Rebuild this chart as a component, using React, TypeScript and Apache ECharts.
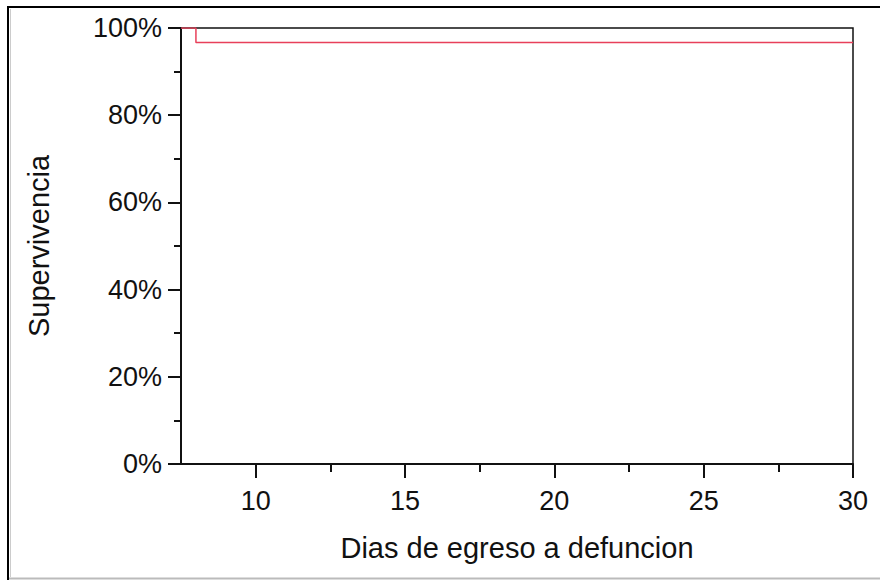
import React, { useEffect, useRef } from "react";
import * as echarts from "echarts";

const days = [7.5, 8, 30];
const survival = [1, 0.9667, 0.9667];
const xMajorTicks = [10, 15, 20, 25, 30];
const xMinorTicks = [12.5, 17.5, 22.5, 27.5];

const FONT = "'Liberation Sans', Arial, sans-serif";

export default function App() {
  const ref = useRef<HTMLDivElement>(null);
  useEffect(() => {
    if (!ref.current) return;
    const chart = echarts.init(ref.current, undefined, { renderer: "svg" });
    const tickText = { color: "#111", fontFamily: FONT, fontSize: 27 };
    const nameText = { color: "#111", fontFamily: FONT, fontSize: 29 };
    chart.setOption({
      animation: false,
      backgroundColor: "#fff",
      grid: {
        left: 181,
        right: 27,
        top: 28,
        bottom: 116,
        show: true,
        borderColor: "#111",
        borderWidth: 1.5,
        backgroundColor: "transparent",
      },
      graphic: [
        {
          type: "polyline",
          shape: { points: [[8, 580], [8, 7], [880, 7]] },
          style: { stroke: "#000", lineWidth: 2, fill: null },
        },
        {
          type: "line",
          shape: { x1: 10.5, y1: 9, x2: 10.5, y2: 577 },
          style: { stroke: "#ccc", lineWidth: 1 },
        },
        {
          type: "line",
          shape: { x1: 9, y1: 578.5, x2: 880, y2: 578.5 },
          style: { stroke: "#bbb", lineWidth: 2 },
        },
      ],
      xAxis: [
        {
          type: "value",
          min: 7.5,
          max: 30,
          name: "Dias de egreso a defuncion",
          nameLocation: "middle",
          nameGap: 69,
          nameTextStyle: { ...nameText },
          axisLine: { show: true, lineStyle: { color: "#111", width: 2 } },
          axisTick: { show: true, length: 14, customValues: xMajorTicks, lineStyle: { color: "#111", width: 2 } },
          axisLabel: { ...tickText, margin: 23, customValues: xMajorTicks },
          splitLine: { show: false },
        },
        {
          type: "value",
          min: 7.5,
          max: 30,
          position: "bottom",
          axisLine: { show: false },
          axisTick: { show: true, length: 8, customValues: xMinorTicks, lineStyle: { color: "#111", width: 2 } },
          axisLabel: { show: false },
          splitLine: { show: false },
        },
      ],
      yAxis: {
        type: "value",
        min: 0,
        max: 1,
        interval: 0.2,
        name: "Supervivencia",
        nameLocation: "middle",
        nameGap: 128,
        nameTextStyle: { ...nameText },
        axisLine: { show: true, lineStyle: { color: "#111", width: 2 } },
        axisTick: { show: true, length: 13, lineStyle: { color: "#111", width: 2 } },
        minorTick: { show: true, splitNumber: 2, length: 7, lineStyle: { color: "#111", width: 2 } },
        axisLabel: {
          ...tickText,
          margin: 19,
          formatter: (v: number) => Math.round(v * 100) + "%",
        },
        splitLine: { show: false },
        minorSplitLine: { show: false },
      },
      series: [
        {
          type: "line",
          step: "end",
          xAxisIndex: 0,
          data: days.map((d, i) => [d, survival[i]]),
          symbol: "none",
          lineStyle: { color: "#e8405a", width: 1.5 },
        },
      ],
    });
    return () => chart.dispose();
  }, []);
  return (
    <div
      ref={ref}
      style={{ position: "absolute", left: 0, top: 0, width: 880, height: 580 }}
    />
  );
}
